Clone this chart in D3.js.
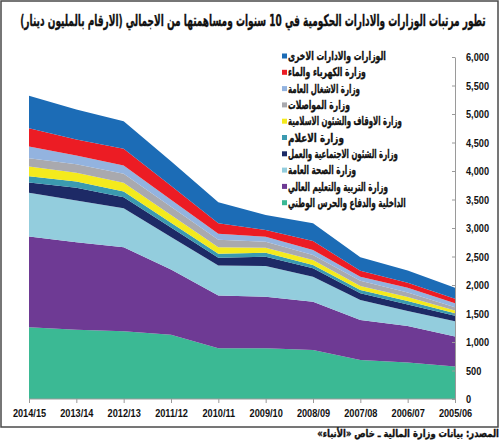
<!DOCTYPE html>
<html>
<head>
<meta charset="utf-8">
<script src="https://cdn.jsdelivr.net/npm/d3@7/dist/d3.min.js"></script>
<style>
  body { margin: 0; background: #fff; }
  svg { display: block; }
</style>
</head>
<body>
<div id="chart"></div>
<script>
const years = ["2014/15", "2013/14", "2012/13", "2011/12", "2010/11", "2009/10", "2008/09", "2007/08", "2006/07", "2005/06"];
const yTicks = [0, 500, 1000, 1500, 2000, 2500, 3000, 3500, 4000, 4500, 5000, 5500, 6000];

// series, bottom of the stack first
const interiorDefense = [1260, 1214, 1190, 1126, 890, 889, 860, 684, 640, 570];
const education = [1590, 1537, 1473, 1144, 926, 906, 847, 702, 640, 526];
const health = [770, 731, 684, 570, 526, 538, 439, 351, 265, 269];
const socialAffairs = [180, 223, 193, 169, 135, 164, 147, 117, 115, 95];
const information = [110, 111, 100, 85, 70, 70, 58, 58, 60, 45];
const awqaf = [170, 152, 153, 134, 116, 88, 88, 70, 70, 48];
const communications = [145, 152, 158, 144, 130, 105, 87, 94, 80, 58];
const publicWorks = [205, 152, 145, 125, 105, 88, 88, 70, 80, 70];
const electricity = [320, 281, 293, 243, 187, 117, 158, 105, 90, 77];
const otherMinistries = [570, 526, 485, 430, 368, 263, 310, 235, 214, 193];

const series = [
  { key: "interior", name: "الداخلية والدفاع والحرس الوطني", values: interiorDefense, color: "#3bb994" },
  { key: "education", name: "وزارة التربية والتعليم العالي", values: education, color: "#6e3a94" },
  { key: "health", name: "وزارة الصحة العامة", values: health, color: "#93cddd" },
  { key: "social", name: "وزارة الشئون الاجتماعية والعمل", values: socialAffairs, color: "#1d2a66" },
  { key: "info", name: "وزارة الاعلام", values: information, color: "#3b9ab0" },
  { key: "awqaf", name: "وزارة الاوقاف والشئون الاسلامية", values: awqaf, color: "#f4ea1d" },
  { key: "comm", name: "وزارة المواصلات", values: communications, color: "#a9a9ae" },
  { key: "works", name: "وزارة الاشغال العامة", values: publicWorks, color: "#93b3df" },
  { key: "elec", name: "وزارة الكهرباء والماء", values: electricity, color: "#ec1c24" },
  { key: "other", name: "الوزارات والادارات  الاخرى", values: otherMinistries, color: "#1c6cb6" }
];

const title = "تطور مرتبات الوزارات والادارات الحكومية في 10 سنوات ومساهمتها من الاجمالي (الارقام بالمليون دينار)";
const source = "المصدر: بيانات وزارة المالية ـ خاص «الأنباء»";

const size = { width: 500, height: 448 };
const plot = { left: 29, right: 455, top: 57, bottom: 399 };
const arFont = "'DejaVu Sans', sans-serif";
const numFont = "'Liberation Sans', Arial, sans-serif";
const numSquash = 0.8;

const svg = d3.select("#chart").append("svg")
  .attr("width", size.width)
  .attr("height", size.height);

// frame
svg.append("rect")
  .attr("x", 1).attr("y", 1)
  .attr("width", 497).attr("height", 426)
  .attr("fill", "none")
  .attr("stroke", "#4a4a4a")
  .attr("stroke-width", 1.5);

// arabic text squeezed horizontally to a given width
function arabicText(parent, str, px, py, fontSize, width, anchor) {
  const g = parent.append("g").attr("transform", `translate(${px},${py})`);
  const t = g.append("text")
    .attr("direction", "rtl")
    .attr("text-anchor", anchor)
    .attr("dominant-baseline", "central")
    .attr("font-family", arFont)
    .attr("font-weight", "bold")
    .attr("font-size", fontSize)
    .attr("fill", "#111")
    .attr("stroke", "#111")
    .attr("stroke-width", 0.35)
    .text(str);
  const len = t.node().getComputedTextLength();
  t.attr("transform", `scale(${width / len},1)`);
  return t;
}

arabicText(svg, title, 253, 20, 16, 466, "middle");

const x = d3.scalePoint().domain(years).range([plot.left, plot.right]);
const y = d3.scaleLinear().domain([0, 6000]).range([plot.bottom, plot.top]);

const table = years.map((yr, i) => {
  const row = { year: yr };
  series.forEach(s => { row[s.key] = s.values[i]; });
  return row;
});

const stacked = d3.stack().keys(series.map(s => s.key))(table);

const area = d3.area()
  .x(d => x(d.data.year))
  .y0(d => y(d[0]))
  .y1(d => y(d[1]));

svg.append("g").attr("class", "areas")
  .selectAll("path")
  .data(stacked)
  .join("path")
  .attr("d", area)
  .attr("fill", (d, i) => series[i].color);

// y axis on the right, ticks pointing in
const yAxis = svg.append("g")
  .attr("transform", `translate(${plot.right},0)`)
  .call(d3.axisRight(y).tickValues(yTicks).tickSize(0).tickFormat(d3.format(",")));
yAxis.select(".domain").attr("stroke", "#9a9a9a");
yAxis.selectAll(".tick line")
  .attr("x1", -3).attr("x2", 0)
  .attr("stroke", "#9a9a9a");
yAxis.selectAll(".tick text")
  .attr("x", 11 / numSquash)
  .attr("transform", `scale(${numSquash},1)`)
  .attr("font-family", numFont)
  .attr("font-weight", "bold")
  .attr("font-size", 11.5)
  .attr("fill", "#111");

// x axis
const xAxis = svg.append("g")
  .attr("transform", `translate(0,${plot.bottom})`)
  .call(d3.axisBottom(x).tickSize(4).tickPadding(6));
xAxis.select(".domain").attr("stroke", "#9a9a9a").attr("d", `M${plot.left},0H${plot.right}`);
xAxis.selectAll(".tick line").attr("stroke", "#9a9a9a");
xAxis.selectAll(".tick text")
  .attr("transform", `scale(${numSquash},1)`)
  .attr("font-family", numFont)
  .attr("font-weight", "bold")
  .attr("font-size", 11.5)
  .attr("fill", "#111");

// legend, top entry first
const legendItems = series.slice().reverse();
const legendWidths = [98, 78, 72, 62, 114, 56, 110, 68, 100, 118];
const legend = svg.append("g").attr("class", "legend");
legendItems.forEach((d, i) => {
  const ly = 56 + i * 16.3;
  legend.append("rect")
    .attr("x", 282).attr("y", ly - 2.5)
    .attr("width", 5).attr("height", 5)
    .attr("fill", d.color);
  arabicText(legend, d.name, 288, ly, 12, legendWidths[i], "end");
});

arabicText(svg, source, 499, 433, 10.5, 182, "start");
</script>
</body>
</html>
